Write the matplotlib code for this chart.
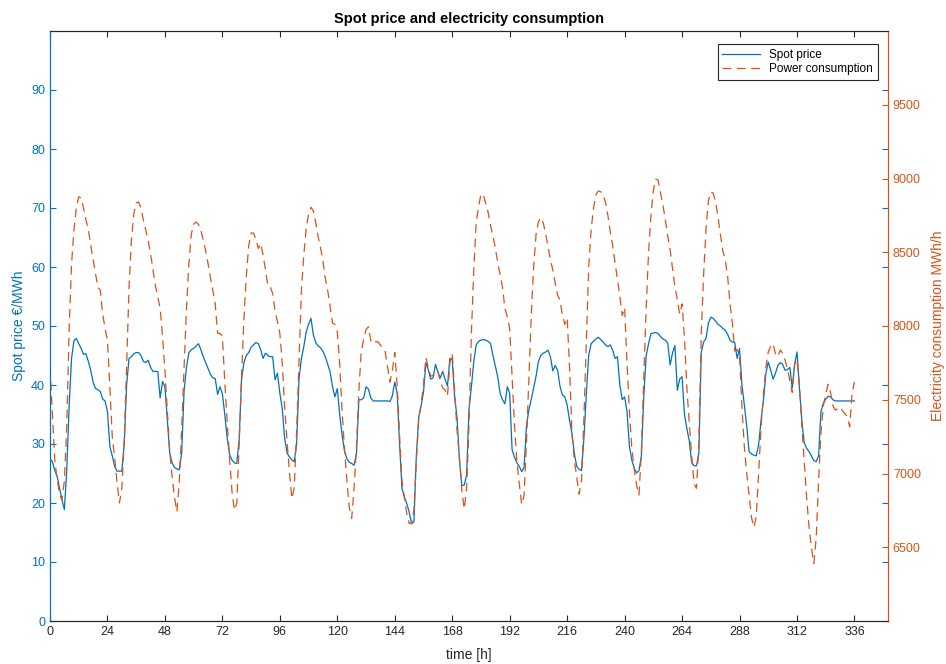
import numpy as np
import matplotlib
matplotlib.use("Agg")
import matplotlib.pyplot as plt

# ── Data (hourly) ─────────────────────────────────────────────────────────────
spot_price = [
    27.5, 27.0, 25.5, 24.5, 22.5, 20.5, 18.9, 25.6, 36.5, 44.5,
    47.5, 47.9, 47.0, 46.2, 45.2, 45.3, 44.0, 42.5, 40.5, 39.4,
    39.2, 38.9, 37.6, 37.3, 35.5, 29.6, 28.0, 26.2, 25.4, 25.4,
    25.4, 30.0, 40.0, 44.5, 44.8, 45.3, 45.5, 45.5, 45.0, 44.0,
    43.8, 44.2, 43.0, 42.3, 42.3, 42.3, 37.8, 40.6, 39.7, 34.0,
    28.5, 26.8, 26.0, 25.8, 25.6, 28.5, 39.0, 43.0, 45.5, 46.0,
    46.2, 46.6, 47.0, 46.0, 44.8, 43.8, 42.8, 41.8, 41.2, 41.1,
    38.4, 39.7, 38.5, 35.0, 31.0, 28.2, 27.3, 26.8, 26.7, 30.7,
    41.0, 43.8, 45.0, 45.5, 46.4, 46.8, 47.2, 47.0, 46.0, 44.5,
    45.4, 45.0, 44.8, 44.8, 40.9, 42.0, 38.6, 36.0, 31.0, 28.5,
    27.8, 27.3, 27.0, 30.0, 41.0, 44.5, 46.5, 49.0, 50.3, 51.3,
    48.5, 47.2, 46.6, 46.3, 45.7, 44.8, 43.5, 42.2, 39.7, 38.0,
    39.4, 35.0, 31.5, 28.8, 27.5, 26.9, 26.7, 26.4, 28.4, 37.5,
    37.5, 37.8, 39.7, 39.3, 37.8, 37.3, 37.3, 37.3, 37.3, 37.3,
    37.3, 37.3, 37.2, 38.2, 40.5, 38.6, 30.0, 22.5, 21.0, 19.9,
    18.5, 16.5, 16.8, 28.0, 34.5, 36.5, 38.8, 43.8, 42.6, 41.0,
    41.2, 43.5, 42.2, 41.2, 42.3, 41.0, 39.8, 44.5, 44.3, 38.0,
    34.5, 27.3, 23.0, 23.0, 24.8, 36.0, 39.7, 44.0, 46.8, 47.4,
    47.6, 47.7, 47.6, 47.4, 47.0, 45.0, 43.2, 41.4, 38.6, 37.5,
    36.8, 39.7, 38.6, 29.0, 27.8, 26.8, 26.2, 25.3, 26.0, 33.0,
    35.8, 37.6, 39.5, 41.5, 44.0, 45.0, 45.4, 45.6, 45.9, 44.8,
    42.4, 43.3, 42.5, 39.8, 38.3, 38.0, 36.6, 34.0, 31.8, 28.4,
    26.2, 25.7, 25.5, 31.0, 38.5, 45.0, 47.0, 47.4, 47.8, 48.1,
    47.7, 47.3, 46.8, 46.5, 46.8, 45.9, 44.5, 44.8, 40.0, 37.5,
    38.0, 35.5, 29.6, 27.3, 25.9, 25.1, 25.5, 28.0, 38.0, 45.0,
    47.0, 48.7, 48.8, 48.9, 48.7, 48.2, 47.8, 47.6, 47.1, 43.4,
    45.4, 46.7, 39.1, 41.0, 41.4, 35.0, 32.6, 30.5, 26.9, 26.3,
    26.3, 28.4, 45.5, 47.3, 47.9, 50.5, 51.5, 51.3, 50.8, 50.3,
    50.0, 49.6, 49.3, 48.6, 47.6, 47.3, 47.2, 44.5, 46.2, 40.0,
    36.6, 33.0, 28.7, 28.3, 28.1, 28.0, 30.0, 34.1, 37.5, 42.0,
    43.9, 42.5, 41.0, 42.0, 43.3, 43.8, 43.5, 42.5, 42.6, 43.0,
    39.5, 43.5, 45.6, 39.5, 34.0, 30.2, 29.3, 28.7, 28.0, 27.2,
    27.0, 28.0, 35.5, 36.9, 37.6, 38.1, 38.0, 37.5, 37.3, 37.3,
    37.3, 37.3, 37.3, 37.3, 37.3, 37.3, 37.3,
]

consumption = [
    7720, 7400, 7090, 6960, 6860, 6820, 6950, 7317, 7980, 8420,
    8650, 8800, 8876, 8868, 8800, 8720, 8655, 8550, 8450, 8355,
    8262, 8244, 8080, 7985, 7900, 7588, 7250, 7110, 6940, 6800,
    6900, 7220, 7724, 8260, 8580, 8760, 8835, 8840, 8800, 8718,
    8650, 8580, 8490, 8380, 8275, 8200, 8120, 7930, 7700, 7420,
    7150, 6980, 6840, 6740, 6940, 7300, 7720, 8120, 8420, 8620,
    8690, 8705, 8690, 8650, 8583, 8510, 8425, 8330, 8240, 8150,
    7950, 7950, 7930, 7620, 7350, 7100, 6880, 6752, 6797, 7200,
    7650, 8050, 8340, 8545, 8630, 8630, 8590, 8526, 8560, 8480,
    8380, 8270, 8266, 8220, 8100, 8030, 7950, 7750, 7450, 7220,
    7010, 6830, 6900, 7280, 7769, 8240, 8480, 8660, 8760, 8805,
    8780, 8700, 8605, 8530, 8440, 8320, 8240, 8130, 8020, 8010,
    7960, 7740, 7420, 7170, 6950, 6770, 6696, 6900, 7180, 7560,
    7830, 7910, 7975, 7995, 7900, 7880, 7893, 7893, 7870, 7850,
    7825, 7720, 7620, 7700, 7820, 7600, 7260, 6950, 6842, 6729,
    6662, 6660, 6750, 7080, 7370, 7475, 7600, 7785, 7720, 7660,
    7665, 7700, 7690, 7630, 7580, 7566, 7525, 7750, 7815, 7560,
    7290, 7110, 6888, 6760, 6900, 7330, 7950, 8380, 8700, 8810,
    8895, 8890, 8830, 8770, 8680, 8610, 8530, 8430, 8350, 8260,
    8120, 8060, 7980, 7660, 7330, 7080, 6930, 6790, 6850, 7210,
    7640, 8070, 8400, 8620, 8707, 8735, 8700, 8625, 8540, 8450,
    8380, 8290, 8210, 8176, 8074, 8010, 8055, 7720, 7270, 7090,
    6975, 6860, 6955, 7380, 7900, 8400, 8650, 8800, 8890, 8915,
    8910, 8888, 8840, 8750, 8640, 8545, 8430, 8320, 8200, 8070,
    8125, 7750, 7420, 7170, 7035, 6920, 6854, 7150, 7650, 8120,
    8500, 8750, 8920, 8995, 8990, 8900, 8820, 8720, 8610, 8515,
    8390, 8266, 8180, 8080, 8150, 7920, 7580, 7340, 7120, 6930,
    6900, 7200, 7950, 8350, 8660, 8850, 8910, 8900, 8840, 8740,
    8620, 8510, 8450, 8340, 8153, 8018, 7830, 7840, 7800, 7450,
    7180, 7000, 6850, 6700, 6635, 6710, 7020, 7317, 7543, 7720,
    7825, 7860, 7882, 7810, 7792, 7837, 7815, 7769, 7710, 7630,
    7550, 7740, 7775, 7600, 7330, 7080, 6840, 6640, 6500, 6390,
    6560, 6950, 7280, 7460, 7540, 7605, 7550, 7460, 7430, 7440,
    7450, 7425, 7407, 7385, 7317, 7543, 7622,
]

hours = np.arange(len(spot_price))
x_ticks = list(range(0, 337, 24))
price_ticks = list(range(0, 91, 10))
cons_ticks = list(range(6500, 9501, 500))

# ── Style ─────────────────────────────────────────────────────────────────────
BLUE = "#0072BD"
ORANGE = "#D95319"
GREY = "#262626"
plt.rcParams["font.family"] = ["Liberation Sans", "DejaVu Sans"]
plt.rcParams["font.size"] = 9

fig = plt.figure(figsize=(9.46, 6.64), dpi=100)
ax1 = fig.add_axes([50 / 946, 1 - 621 / 664, 838 / 946, 590 / 664])
ax2 = ax1.twinx()

l1, = ax1.plot(hours, spot_price, color=BLUE, lw=0.9, label="Spot price")
l2, = ax2.plot(hours, consumption, color=ORANGE, lw=0.9,
               linestyle=(0, (7, 4.5)), label="Power consumption")

ax1.set_xlim(0, 350)
ax1.set_ylim(0, 100)
ax2.set_ylim(6000, 10000)
ax1.set_xticks(x_ticks)
ax1.set_yticks(price_ticks)
ax2.set_yticks(cons_ticks)

ax1.tick_params(axis="x", direction="in", top=True, length=4,
                colors=GREY, labelsize=9)
ax1.tick_params(axis="y", direction="in", left=True, right=True,
                labelright=False, length=4, colors=BLUE, labelsize=9)
ax2.tick_params(axis="y", direction="in", length=4, colors=ORANGE, labelsize=9)

for ax in (ax1, ax2):
    ax.spines["top"].set_color(GREY)
    ax.spines["bottom"].set_color(GREY)
    ax.spines["left"].set_color(BLUE)
    ax.spines["right"].set_color(ORANGE)
    for s in ax.spines.values():
        s.set_linewidth(0.8)

ax1.set_xlabel("time [h]", color=GREY, fontsize=10, labelpad=7)
ax1.set_ylabel("Spot price €/MWh", color=BLUE, fontsize=10, labelpad=4)
ax2.set_ylabel("Electricity consumption MWh/h", color=ORANGE, fontsize=10,
               labelpad=7)
ax1.set_title("Spot price and electricity consumption", fontsize=10.5,
              fontweight="bold", color="black", pad=6)

leg = ax2.legend(handles=[l1, l2], loc="upper right", fontsize=8.5,
                 fancybox=False, framealpha=1, edgecolor=GREY,
                 bbox_to_anchor=(0.988, 0.978), borderaxespad=0,
                 handlelength=3.2, labelspacing=0.2)
leg.get_frame().set_linewidth(0.8)

fig.savefig("out.png", dpi=100)
